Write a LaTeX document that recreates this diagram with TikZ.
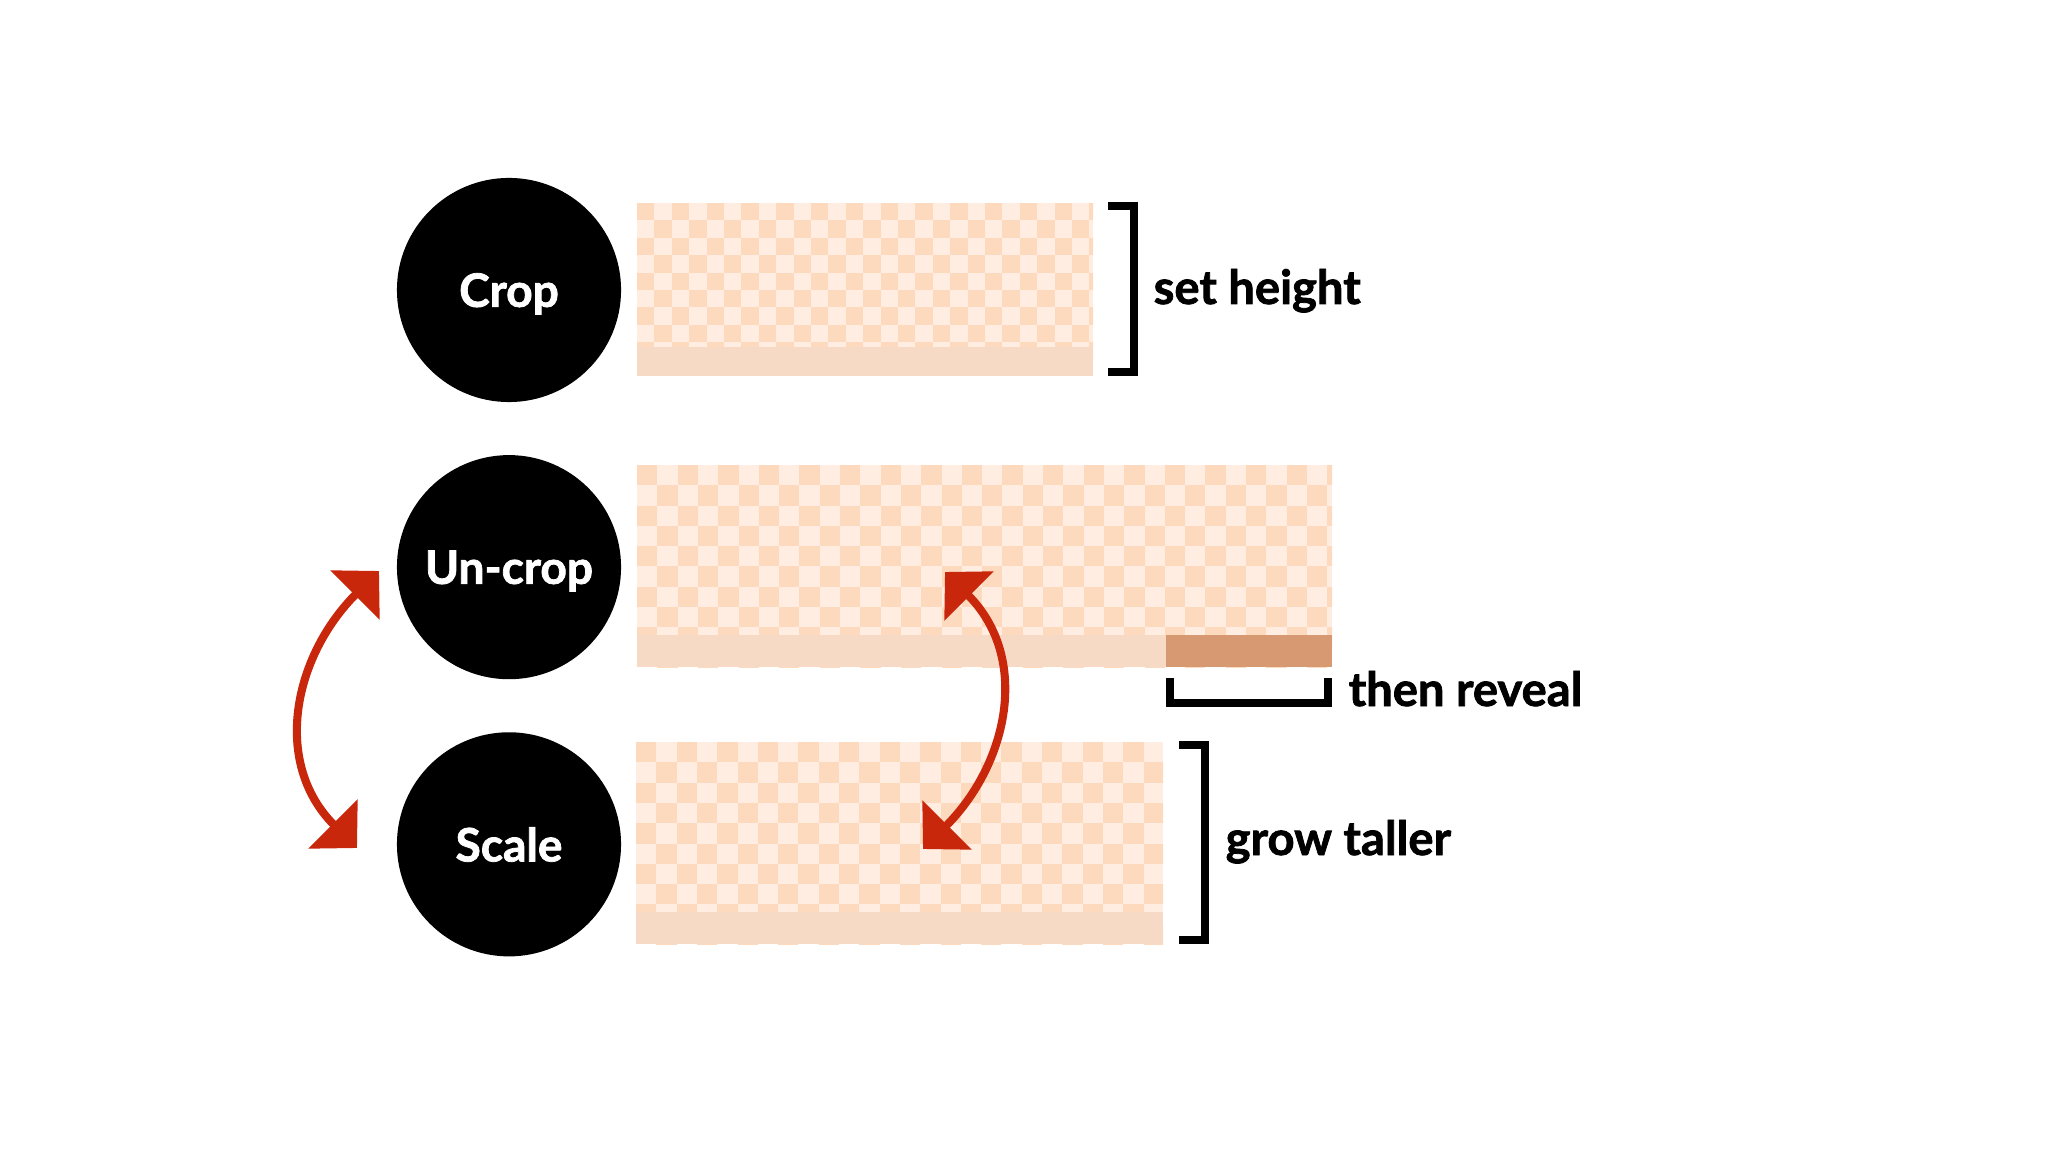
\documentclass[tikz,border=0pt]{standalone}
\usepackage{fontspec}
\setmainfont{Lato}[BoldFeatures={FakeBold=1.6}]
\usetikzlibrary{arrows.meta,positioning}

\definecolor{tiledark}{HTML}{FDD9BE}
\definecolor{tilelight}{HTML}{FEEDE0}
\definecolor{stripcol}{HTML}{F6DAC6}
\definecolor{revealcol}{HTML}{D69971}
\definecolor{swapred}{HTML}{C9270C}

% checkered box: corners (#1,#2) and (#3,#4), cell size #5
\newcommand{\checkrect}[5]{%
  \begin{scope}
    \clip (#1,#2) rectangle (#3,#4);
    \fill[tilelight] (#1,#2) rectangle (#3,#4);
    \foreach \i in {0,...,39}
      \foreach \j in {0,...,10} {
        \pgfmathparse{int(mod(\i+\j,2))}
        \ifnum\pgfmathresult=0
          \fill[tiledark] ({#1+\i*#5},{#2+\j*#5}) rectangle ++(#5,#5);
        \fi
      }
  \end{scope}}

\begin{document}
\begin{tikzpicture}[x=0.01cm, y=-0.01cm, node distance=2.77cm,
    stage/.style={circle, fill=black, text=white, minimum size=2.24cm, inner sep=0pt,
      text depth=0pt, font=\bfseries\fontsize{13.1}{15}\selectfont},
    note/.style={anchor=base west, inner sep=0pt, font=\bfseries\fontsize{13.4}{16}\selectfont},
    bracket/.style={line width=2pt, line join=miter},
    swaparr/.style={draw=swapred, line width=2.3pt,
      {Triangle[length=0.34cm, width=0.68cm]}-{Triangle[length=0.34cm, width=0.68cm]}}]
    \useasboundingbox (0,0) rectangle (2048,1152);

    \node (crop) [stage] at (509,290) {Crop};
    \node (uncrop) [stage, below of=crop] {Un-crop};
    \node (scale) [stage, below of=uncrop] {Scale};

    % Boxes
    \checkrect{637}{203}{1093}{376}{17.4}
    \fill[stripcol] (637,347) rectangle (1093,376);
    \checkrect{637}{465}{1332}{667}{20.3}
    \fill[stripcol] (637,635) rectangle (1166,667);
    \fill[revealcol] (1166,635) rectangle (1332,667);
    \checkrect{636}{742}{1163}{944}{20.3}
    \fill[stripcol] (636,912) rectangle (1163,944);

    % Brackets
    \draw[bracket] (1108,206) -- (1134,206) -- (1134,372) -- (1108,372);
    \draw[bracket] (1170,678) -- (1170,703) -- (1328,703) -- (1328,678);
    \draw[bracket] (1179,745) -- (1205,745) -- (1205,940) -- (1179,940);

    \node (setheight) [note] at (1153,304) {set height};
    \node (reveal) [note] at (1348,706) {then reveal};
    \node (taller) [note] at (1225,855) {grow taller};

    % Arrows
    \coordinate (ltop) at (379,571);
    \coordinate (lbot) at (357,848);
    \coordinate (rtop) at (945,572);
    \coordinate (rbot) at (923,849);
    \draw[swaparr] (lbot) .. controls (272,763) and (293,657) .. (ltop);
    \draw[swaparr] (rbot) .. controls (1008,764) and (1031,658) .. (rtop);
\end{tikzpicture}
\end{document}
